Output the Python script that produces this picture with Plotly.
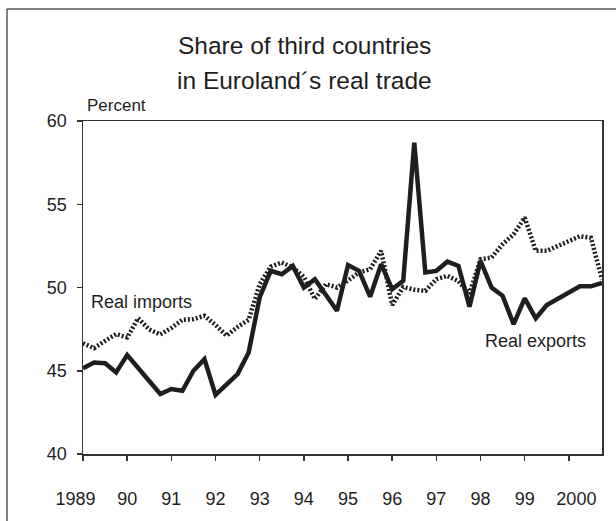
import plotly.graph_objects as go

# Quarterly data 1989Q1 .. 2000Q4
years = list(range(1989, 2001))
quarters = [y + q / 4 for y in years for q in range(4)]

real_exports = [45.15, 45.5, 45.45, 44.9, 45.95, 45.2, 44.4, 43.6,
                43.9, 43.8, 45.0, 45.7, 43.55, 44.2, 44.8, 46.1,
                49.4, 51.0, 50.8, 51.3, 50.0, 50.5, 49.6, 48.6,
                51.35, 51.0, 49.45, 51.4, 49.9, 50.4, 58.7, 50.9,
                51.0, 51.55, 51.3, 48.85, 51.6, 50.0, 49.5, 47.8,
                49.35, 48.15, 48.95, 49.3, 49.7, 50.07, 50.07, 50.27]

real_imports = [46.65, 46.36, 46.8, 47.2, 47.0, 48.16, 47.47, 47.18,
                47.57, 48.06, 48.1, 48.3, 47.75, 47.1, 47.63, 48.06,
                50.2, 51.25, 51.5, 51.2, 50.65, 49.3, 50.2, 50.0,
                50.42, 50.9, 51.1, 52.2, 48.95, 50.03, 49.87, 49.8,
                50.5, 50.7, 50.38, 49.63, 51.7, 51.8, 52.6, 53.2,
                54.2, 52.2, 52.2, 52.5, 52.8, 53.08, 52.98, 50.5]

x_tick_vals = years
NB = "\u00a0"
x_tick_text = ["1989" + NB * 3, "90", "91", "92", "93", "94", "95", "96", "97", "98", "99",
               NB * 3 + "2000"]
y_tick_vals = [40, 45, 50, 55, 60]

FONT = "Liberation Sans, Arial, Helvetica, sans-serif"
INK = "#1e1e1e"

fig = go.Figure()
fig.add_trace(go.Scatter(x=quarters, y=real_imports, mode="lines", name="Real imports",
                         line=dict(color=INK, width=4.5, dash="2px,2px"), hoverinfo="skip"))
fig.add_trace(go.Scatter(x=quarters, y=real_exports, mode="lines", name="Real exports",
                         line=dict(color=INK, width=4.5), hoverinfo="skip"))

L, R, T, B = 83, 14, 121, 61
W, H = 616, 521
pw, ph = W - L - R, H - T - B

def px(xp):
    return (xp - L) / pw

def py(yp):
    return (H - B - yp) / ph

fig.update_layout(
    width=W, height=H,
    margin=dict(l=L, r=R, t=T, b=B, pad=0),
    paper_bgcolor="white", plot_bgcolor="white",
    showlegend=False,
    font=dict(family=FONT, color=INK, size=18),
    xaxis=dict(range=[1989, 2000.75], tickvals=x_tick_vals, ticktext=x_tick_text,
               showgrid=False, zeroline=False, showline=True, linecolor="#333",
               linewidth=1.5, mirror=True, ticks="outside", ticklen=5, tickwidth=1.5,
               tickcolor="#333", tickfont=dict(size=18, family=FONT, color=INK),
               ticklabelstandoff=23),
    yaxis=dict(range=[40, 60], tickvals=y_tick_vals, showgrid=False, zeroline=False,
               showline=True, linecolor="#333", linewidth=1.5, mirror=True,
               ticks="outside", ticklen=5, tickwidth=1.5, tickcolor="#333",
               tickfont=dict(size=18, family=FONT, color=INK), ticklabelstandoff=6),
    shapes=[
        dict(type="line", xref="paper", yref="paper", x0=px(7), x1=px(7), y0=py(7), y1=py(540),
             line=dict(color="#555", width=1.5)),
        dict(type="line", xref="paper", yref="paper", x0=px(7), x1=px(640), y0=py(7), y1=py(7),
             line=dict(color="#555", width=1.5)),
    ],
    annotations=[
        dict(text="Share of third countries", xref="paper", yref="paper", x=px(304), y=py(44),
             xanchor="center", yanchor="middle", showarrow=False, font=dict(size=24.5, family=FONT, color=INK)),
        dict(text="in Euroland\u00b4s real trade", xref="paper", yref="paper", x=px(304), y=py(80),
             xanchor="center", yanchor="middle", showarrow=False, font=dict(size=24.5, family=FONT, color=INK)),
        dict(text="Percent", xref="paper", yref="paper", x=px(85), y=py(105),
             xanchor="left", yanchor="middle", showarrow=False, font=dict(size=17, family=FONT, color=INK)),
        dict(text="Real imports", xref="paper", yref="paper", x=px(141), y=py(305),
             xanchor="center", yanchor="middle", showarrow=False, font=dict(size=18, family=FONT, color=INK)),
        dict(text="Real exports", xref="paper", yref="paper", x=px(535), y=py(345),
             xanchor="center", yanchor="middle", showarrow=False, font=dict(size=18, family=FONT, color=INK)),
    ],
)

fig.write_html("out.html", config={"displayModeBar": False, "staticPlot": True},
               post_script="document.body.style.margin='0';")
